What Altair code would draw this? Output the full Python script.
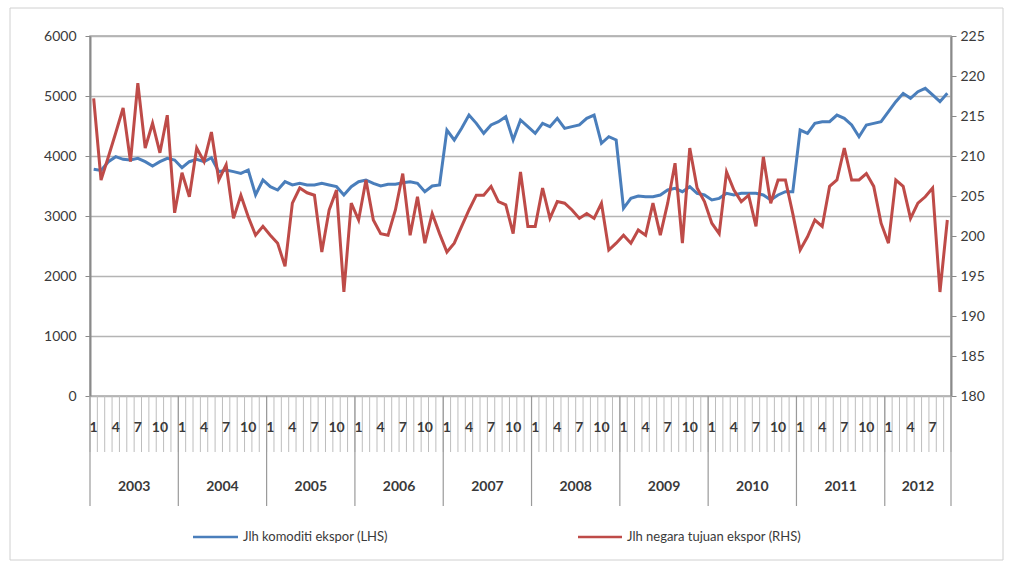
import altair as alt
import pandas as pd

# ---- data (monthly, Jan 2003 .. Sep 2012) ----
years = ["2003", "2004", "2005", "2006", "2007", "2008", "2009", "2010", "2011", "2012"]
months_in_year = [12, 12, 12, 12, 12, 12, 12, 12, 12, 9]
month_labels = ["1", "4", "7", "10"]

komoditi = [
    3780, 3760, 3905, 3989, 3944, 3933, 3961, 3905, 3833, 3905, 3961, 3933,
    3805, 3905, 3944, 3905, 3972, 3739, 3767, 3739, 3711, 3767, 3350, 3600,
    3489, 3433, 3572, 3517, 3544, 3517, 3517, 3544, 3517, 3489, 3350, 3489,
    3572, 3600, 3544, 3500, 3530, 3530, 3555, 3572, 3544, 3405, 3500, 3517,
    4433, 4267, 4461, 4683, 4544, 4378, 4517, 4572, 4655, 4267, 4600, 4489,
    4378, 4544, 4489, 4628, 4461, 4489, 4517, 4628, 4683, 4211, 4322, 4267,
    3128, 3294, 3333, 3322, 3322, 3350, 3433, 3461, 3405, 3489, 3378, 3350,
    3267, 3294, 3378, 3350, 3378, 3378, 3378, 3350, 3267, 3350, 3405, 3405,
    4433, 4378, 4544, 4572, 4572, 4683, 4628, 4517, 4322, 4517, 4544, 4572,
    4739, 4905, 5044, 4961, 5072, 5128, 5017, 4905, 5044,
]
negara = [
    217.2, 207.0, 209.9, 212.9, 216.0, 209.3, 219.1, 211.0, 214.1, 210.4, 215.1, 202.9,
    207.9, 204.9, 211.0, 209.3, 213.0, 207.0, 208.9, 202.2, 205.1, 202.4, 200.1, 201.2,
    200.1, 199.1, 196.2, 204.1, 206.0, 205.4, 205.1, 198.0, 203.25, 205.75, 193.0, 204.1,
    202.0, 207.0, 202.0, 200.3, 200.1, 203.25, 207.8, 200.1, 204.9, 199.1, 202.8, 200.3,
    198.0, 199.1, 201.2, 203.25, 205.1, 205.1, 206.2, 204.3, 203.9, 200.3, 208.0, 201.2,
    201.2, 206.0, 202.2, 204.3, 204.1, 203.25, 202.2, 202.8, 202.2, 204.1, 198.25, 199.1,
    200.1, 199.1, 200.75, 200.1, 204.1, 200.1, 204.1, 209.1, 199.1, 211.0, 206.0, 204.3,
    201.6, 200.3, 208.0, 205.75, 204.3, 205.1, 201.2, 209.9, 204.1, 207.0, 207.0, 202.8,
    198.25, 199.9, 202.0, 201.2, 206.2, 207.0, 211.0, 207.0, 207.0, 207.8, 206.2, 201.6,
    199.1, 207.0, 206.2, 202.2, 204.1, 204.9, 206.0, 193.0, 202.0,
]
series_names = ["Jlh komoditi ekspor (LHS)", "Jlh negara tujuan ekspor (RHS)"]

# ---- tables built from the arrays ----
n = len(komoditi)
lines = pd.DataFrame({"pos": [i + 0.5 for i in range(n)], "kom": komoditi, "neg": negara})

month_bounds = pd.DataFrame({"pos": list(range(n + 1))})
year_starts = [sum(months_in_year[:k]) for k in range(len(years))]
year_bounds = pd.DataFrame({"pos": year_starts + [n]})
year_lab = pd.DataFrame({
    "pos": [year_starts[k] + months_in_year[k] / 2 for k in range(len(years))],
    "label": years,
})
mrows = []
for k in range(len(years)):
    for lab in month_labels:
        m = int(lab) - 1
        if m < months_in_year[k]:
            mrows.append({"pos": year_starts[k] + m + 0.5, "label": lab})
month_lab = pd.DataFrame(mrows)

BLUE = "#4a7ebb"
RED = "#be4b48"
FONT = "Lato"
TXT = "#3a3a3a"

xs = alt.Scale(domain=[0, n], nice=False, zero=False)
X = alt.X("pos:Q", scale=xs, axis=None)

one = pd.DataFrame({"k": [0]})

frame = alt.Chart(one).mark_rect(filled=False, stroke="#d0d0d0", strokeWidth=1).encode(
    x=alt.value(-80), x2=alt.value(913), y=alt.value(-28), y2=alt.value(524)
)

mticks = alt.Chart(month_bounds).mark_rule(color="#bdbdbd", strokeWidth=1).encode(
    x=X, y=alt.value(360), y2=alt.value(416)
)
yticks = alt.Chart(year_bounds).mark_rule(color="#9a9a9a", strokeWidth=1.2).encode(
    x=X, y=alt.value(360), y2=alt.value(470)
)
mtext = alt.Chart(month_lab).mark_text(
    font=FONT, fontSize=14, fontWeight="bold", color=TXT, baseline="middle", align="center"
).encode(x=X, y=alt.value(392), text="label:N")
ytext = alt.Chart(year_lab).mark_text(
    font=FONT, fontSize=14, fontWeight="bold", color=TXT, baseline="middle", align="center"
).encode(x=X, y=alt.value(451), text="label:N")

blue = alt.Chart(lines).mark_line(color=BLUE, strokeWidth=3).encode(
    x=X,
    y=alt.Y(
        "kom:Q",
        scale=alt.Scale(domain=[0, 6000], nice=False, zero=False),
        axis=alt.Axis(
            orient="left", values=[0, 1000, 2000, 3000, 4000, 5000, 6000], title=None,
            format="d",
            grid=True, gridColor="#b4b4b4", gridWidth=1.6,
            domainColor="#8a8a8a", domainWidth=2, tickColor="#8a8a8a", tickSize=5,
            labelFont=FONT, labelFontSize=14, labelColor=TXT, labelPadding=9,
        ),
    ),
)
red = alt.Chart(lines).mark_line(color=RED, strokeWidth=3).encode(
    x=X,
    y=alt.Y(
        "neg:Q",
        scale=alt.Scale(domain=[180, 225], nice=False, zero=False),
        axis=alt.Axis(
            orient="right", values=list(range(180, 226, 5)), title=None, grid=False,
            format="d",
            domainColor="#8a8a8a", domainWidth=2, tickColor="#8a8a8a", tickSize=5,
            labelFont=FONT, labelFontSize=14, labelColor=TXT, labelPadding=4,
        ),
    ),
)

leg_blue_line = alt.Chart(one).mark_rule(color=BLUE, strokeWidth=2.5).encode(
    x=alt.value(103), x2=alt.value(148), y=alt.value(501)
)
leg_blue_text = alt.Chart(one).mark_text(
    font=FONT, fontSize=13, color=TXT, align="left", baseline="middle", text=series_names[0]
).encode(x=alt.value(153), y=alt.value(501))
leg_red_line = alt.Chart(one).mark_rule(color=RED, strokeWidth=2.5).encode(
    x=alt.value(488), x2=alt.value(532), y=alt.value(501)
)
leg_red_text = alt.Chart(one).mark_text(
    font=FONT, fontSize=13, color=TXT, align="left", baseline="middle", text=series_names[1]
).encode(x=alt.value(537), y=alt.value(501))

chart = (
    alt.layer(
        frame, mticks, yticks, mtext, ytext, blue, red,
        leg_blue_line, leg_blue_text, leg_red_line, leg_red_text,
    )
    .resolve_scale(y="independent")
    .properties(
        width=861, height=360,
        autosize=alt.AutoSizeParams(type="none"),
        padding={"left": 90, "top": 36, "right": 62, "bottom": 168},
        background="white",
    )
    .configure_view(stroke="#a6a6a6", strokeWidth=1.5)
)

chart.save("out.html", embed_options={"renderer": "svg", "actions": False})
